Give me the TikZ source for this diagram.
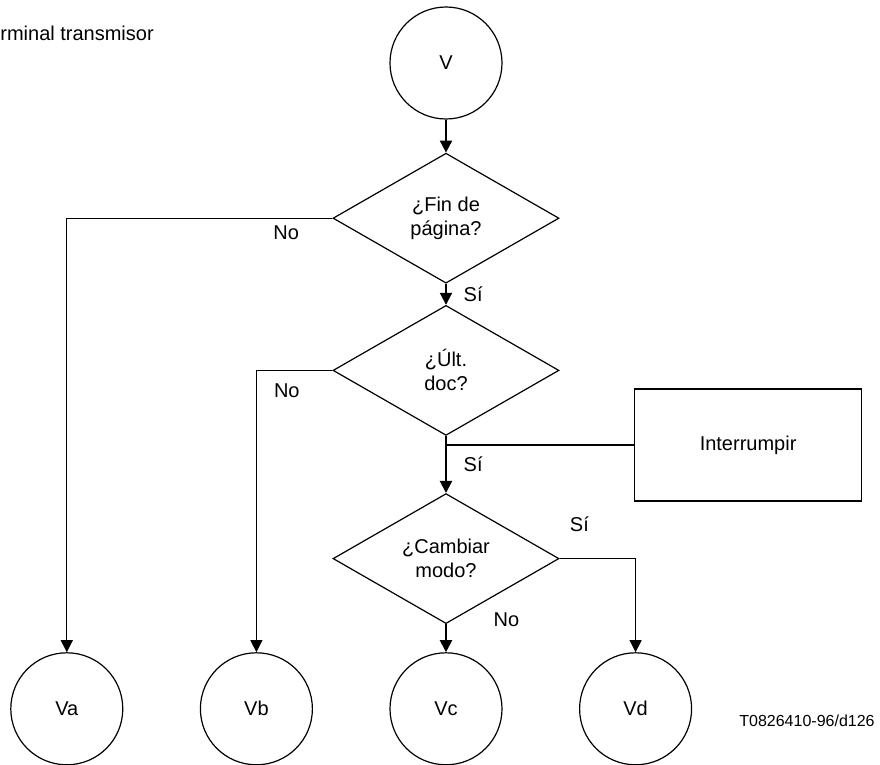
\documentclass[tikz,border=0pt]{standalone}
\usepackage{fontspec}
\setmainfont{Liberation Sans}
\usepackage{tikz}
\usetikzlibrary{shapes.geometric, arrows.meta, positioning, calc}
\tikzset{
  term/.style = {circle, draw, line width=0.6pt, minimum size=56pt,
                 inner sep=0pt, font=\fontsize{10}{12}\selectfont},
  dec/.style  = {diamond, draw, line width=0.6pt, aspect=1.74,
                 minimum width=113pt, minimum height=65pt, inner sep=0pt,
                 align=center, font=\fontsize{10}{12}\selectfont},
  blk/.style  = {rectangle, draw, line width=0.6pt, minimum width=113.5pt,
                 minimum height=56pt, font=\fontsize{10}{12}\selectfont},
  arr/.style  = {-{Triangle[length=6pt, width=6pt]}, line width=1pt},
  tarr/.style = {-{Triangle[length=6pt, width=6pt]}, line width=0.5pt},
  lbl/.style  = {font=\fontsize{10}{12}\selectfont},
}

\begin{document}
\begin{tikzpicture}[x=0.5pt, y=-0.5pt]

  \useasboundingbox (0,0) rectangle (880,765);

  \node[lbl, anchor=west, inner sep=0pt] (ttl) at (0,33) {rminal transmisor};

  \node[term] (v) at (446,63) {V};

  \node[dec, below=16.5pt of v]  (fin)  {¿Fin de\\página?};
  \node[dec, below=10.5pt of fin] (ult)  {¿Últ.\\doc?};
  \coordinate[below=4.5pt of ult.south] (j);
  \node[dec, below=28.5pt of ult] (camb) {¿Cambiar\\modo?};

  \node[blk, right=94pt of j] (intr) {Interrumpir};

  \node[term, below=14pt of camb] (vc) {Vc};
  \node[term, left=38.2pt of vc]  (vb) {Vb};
  \node[term, left=38.2pt of vb]  (va) {Va};
  \node[term, right=38.2pt of vc] (vd) {Vd};

  \node[font=\fontsize{8}{10}\selectfont] (ref) at (807,721) {T0826410-96/d126};

  \draw[arr] (v) -- (fin);
  \draw[tarr] (fin.west) -| node[lbl, pos=0.087, below]{No} (va);
  \draw[arr] (fin) -- node[lbl, right, xshift=5pt]{Sí} (ult);
  \draw[tarr] (ult.west) -| node[lbl, pos=0.3, below, yshift=-3pt]{No} (vb);
  \draw[arr] (ult) -- node[lbl, right, xshift=5pt]{Sí} (camb);
  \draw[line width=1pt] (j) -- (intr.west);
  \draw[arr] (camb) -- node[lbl, pos=0, right=20pt, yshift=2pt]{No} (vc);
  \draw[tarr] (camb.east) -| node[lbl, pos=0.13, above=10pt]{Sí} (vd);

\end{tikzpicture}
\end{document}
